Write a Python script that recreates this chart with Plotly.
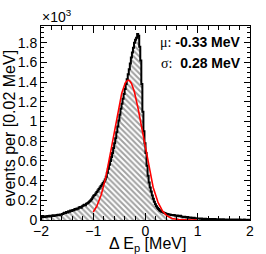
import numpy as np
import plotly.graph_objects as go

# histogram: 200 bins of 0.02 MeV from -2 to 2 (counts per bin)
bin_lo = -2.0
bin_w = 0.02
counts = [
    # -2.00 .. -1.60
    32, 28, 36, 30, 38, 34, 40, 36, 44, 38, 42, 47, 41, 49, 45, 51, 54, 49, 57, 53,
    # -1.60 .. -1.40
    62, 66, 74, 70, 80, 76, 88, 84, 96, 92,
    # -1.40 .. -1.20
    102, 98, 112, 106, 118, 114, 126, 131, 124, 140,
    # -1.20 .. -1.00
    146, 154, 150, 164, 170, 178, 188, 198, 210, 228,
    # -1.00 .. -0.80
    245, 255, 270, 285, 300, 315, 330, 345, 360, 375,
    # -0.80 .. -0.60
    390, 410, 440, 480, 520, 560, 600, 640, 680, 730,
    # -0.60 .. -0.40
    780, 830, 890, 950, 1010, 1070, 1130, 1180, 1230, 1280,
    # -0.40 .. -0.20
    1330, 1380, 1430, 1480, 1530, 1590, 1650, 1700, 1750, 1800,
    # -0.20 .. -0.10
    1830, 1850, 1890, 1870, 1760,
    # -0.10 .. 0.00
    1620, 1380, 1100, 900, 780,
    # 0.00 .. 0.10
    680, 550, 450, 380, 330,
    # 0.10 .. 0.20
    290, 250, 215, 185, 160,
    # 0.20 .. 0.30
    140, 125, 112, 100, 92,
    # 0.30 .. 0.50
    85, 80, 74, 70, 66, 62, 60, 56, 55, 52,
    # 0.50 .. 0.70
    50, 48, 52, 45, 42, 46, 40, 38, 42, 35,
    # 0.70 .. 1.00
    32, 30, 34, 28, 26, 30, 24, 22, 26, 20, 18, 22, 16, 18, 15,
    # 1.00 .. 2.00
    14, 16, 12, 14, 11, 13, 10, 12, 9, 11,
    10, 8, 9, 11, 8, 7, 9, 6, 8, 7,
    6, 7, 5, 6, 8, 5, 6, 4, 5, 6,
    5, 4, 6, 4, 3, 5, 4, 3, 4, 3,
    4, 3, 2, 3, 4, 2, 3, 2, 3, 2,
]

# gaussian fit parameters (as shown in the legend box)
fit_amp = 1420.0
fit_mu = -0.33
fit_sigma = 0.28
fit_range = [-1.0, 1.0]

y_ticks = [0, 0.2, 0.4, 0.6, 0.8, 1.0, 1.2, 1.4, 1.6, 1.8]
y_ticktext = ["0", "0.2", "0.4", "0.6", "0.8", "1", "1.2", "1.4", "1.6", "1.8"]
x_ticks = [-2, -1, 0, 1, 2]

W, H = 266, 254
ML, MR, MT, MB = 41, 13, 26, 34
pw = W - ML - MR
ph = H - MT - MB


def px_x(p):
    return (p - ML) / pw


def px_y(p):
    return (H - MB - p) / ph


n = len(counts)
edges = bin_lo + bin_w * np.arange(n + 1)
centers = edges[:-1] + bin_w / 2
yk = np.array(counts) / 1000.0

fig = go.Figure()
fig.add_trace(go.Bar(
    x=centers, y=yk, width=bin_w,
    marker=dict(color="white", line=dict(width=0),
                pattern=dict(shape="\\", fgcolor="#444444", bgcolor="white",
                             size=4, solidity=0.5)),
    showlegend=False, hoverinfo="skip"))
# step outline
sx = np.concatenate([[edges[0]], edges])
sy = np.concatenate([[0.0], yk, [yk[-1]]])
fig.add_trace(go.Scatter(x=sx, y=sy, mode="lines", line=dict(shape="hv", color="black", width=2),
                         showlegend=False, hoverinfo="skip"))
fx = np.linspace(fit_range[0], fit_range[1], 300)
fy = fit_amp * np.exp(-0.5 * ((fx - fit_mu) / fit_sigma) ** 2) / 1000.0
fig.add_trace(go.Scatter(x=fx, y=fy, mode="lines", line=dict(color="red", width=1.6),
                         showlegend=False, hoverinfo="skip"))

font = "Liberation Sans, Arial, sans-serif"
fig.update_layout(
    width=W, height=H,
    margin=dict(l=ML, r=MR, t=MT, b=MB),
    paper_bgcolor="white", plot_bgcolor="white",
    bargap=0, barmode="overlay",
    font=dict(family=font, size=14, color="black"),
    xaxis=dict(range=[-2, 2], tickvals=x_ticks, ticks="inside", ticklen=7, tickcolor="black",
               showline=True, linecolor="black", linewidth=1, mirror="ticks", showgrid=False,
               zeroline=False, tickfont=dict(size=14), ticklabelstandoff=-2,
               minor=dict(dtick=0.2, tick0=0, ticks="inside", ticklen=4, tickcolor="black", showgrid=False)),
    yaxis=dict(range=[0, 1.97], tickvals=y_ticks, ticktext=y_ticktext, ticks="inside", ticklen=6,
               tickcolor="black", showline=True, linecolor="black", linewidth=1, mirror="ticks",
               showgrid=False, zeroline=False, tickfont=dict(size=14),
               minor=dict(dtick=0.05, tick0=0, ticks="inside", ticklen=3, tickcolor="black", showgrid=False)),
    annotations=[
        dict(text="\u00d710<sup>3</sup>", x=px_x(40), xref="paper", y=px_y(16), yref="paper",
             xanchor="left", yanchor="middle", showarrow=False, font=dict(size=14)),
        dict(text="events per [0.02 MeV]", x=px_x(9), xref="paper", y=px_y(128), yref="paper",
             xanchor="center", yanchor="middle", textangle=-90,
             showarrow=False, font=dict(size=16)),
        dict(text="\u0394 E<sub>p</sub> [MeV]",
             x=px_x(149), xref="paper", y=px_y(244), yref="paper", xanchor="center", yanchor="middle",
             showarrow=False, font=dict(size=16)),
        dict(text="<span style='font-family:Liberation Serif'>\u03bc:</span> <b>-0.33 MeV</b>",
             x=px_x(246), xref="paper", y=px_y(42), yref="paper", xanchor="right", yanchor="middle",
             showarrow=False, font=dict(size=14)),
        dict(text="<span style='font-family:Liberation Serif'>\u03c3:</span>  <b>0.28 MeV</b>",
             x=px_x(246), xref="paper", y=px_y(63), yref="paper", xanchor="right", yanchor="middle",
             showarrow=False, font=dict(size=14)),
    ],
)
fig.write_html("out.html", config={"displayModeBar": False, "staticPlot": True},
               post_script="document.body.style.margin='0';document.body.style.overflow='hidden';")
